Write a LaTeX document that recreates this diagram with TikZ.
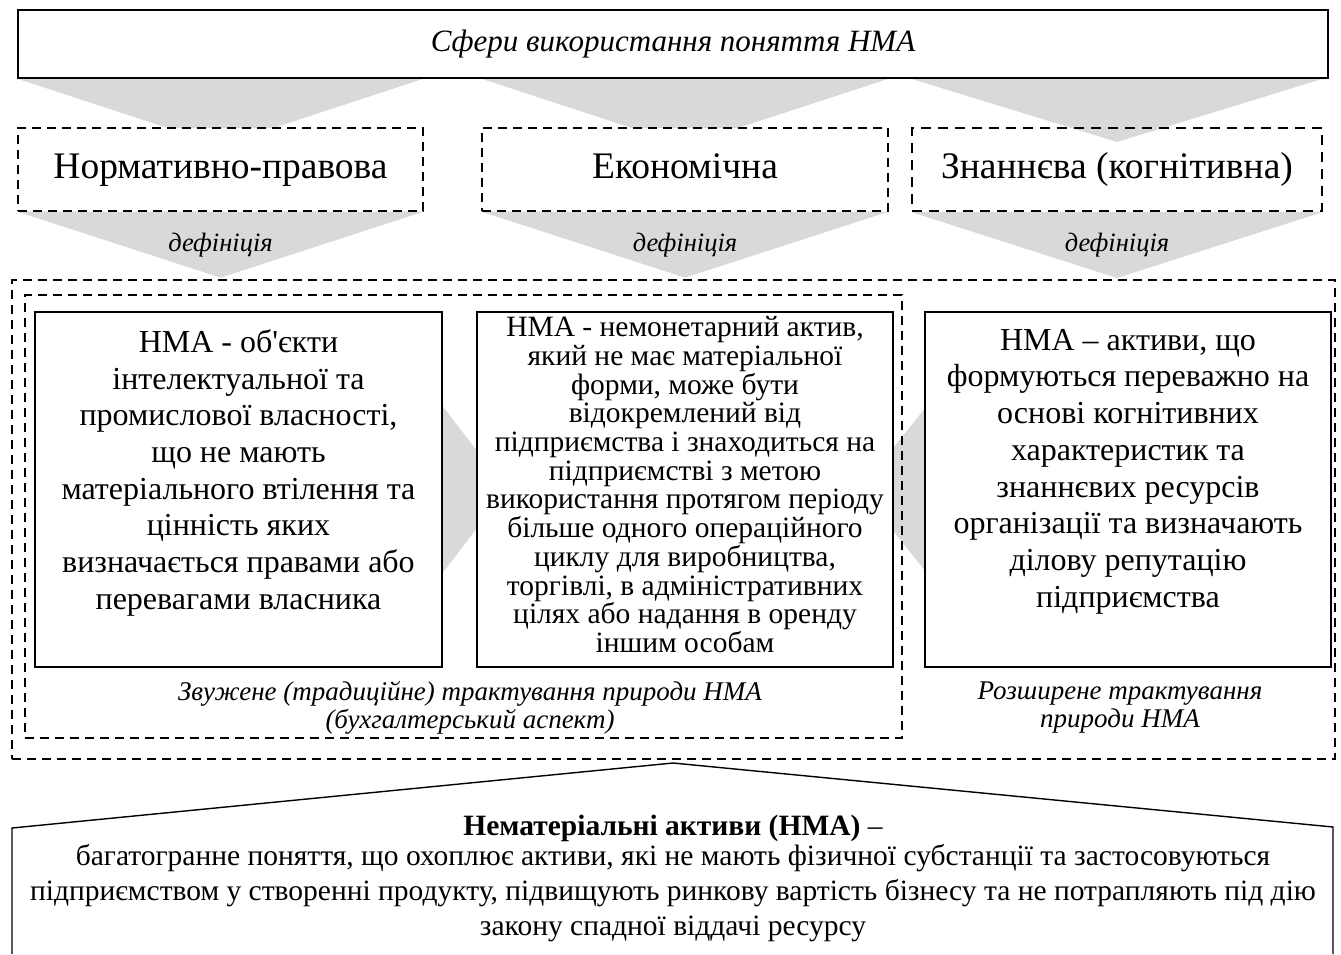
\documentclass[tikz,border=0pt]{standalone}
\usepackage{fontspec}
\setmainfont{Liberation Serif}
\newfontfamily\plainquote{Liberation Serif}[Ligatures=TeXOff]
\usetikzlibrary{positioning,calc,backgrounds}

\tikzset{
  solidbox/.style={draw, line width=1.4pt, fill=white, inner sep=0pt},
  dashbox/.style={draw, line width=1.3pt, dash pattern=on 9pt off 6pt, inner sep=0pt},
  greyfill/.style={fill=black!15},
  levelfont/.style={font=\fontsize{37.5}{40}\selectfont, text height=26pt, text depth=8pt},
  deflabel/.style={font=\fontsize{26.5}{28}\selectfont\itshape, inner sep=0pt},
  bigtext/.style={align=center, inner sep=0pt, font=\fontsize{32}{36.7}\selectfont},
  smalltext/.style={align=center, inner sep=0pt, font=\fontsize{29.5}{28.7}\selectfont},
  notetext/.style={align=center, inner sep=0pt, font=\fontsize{27}{28}\selectfont\itshape},
  bottomtext/.style={align=center, inner sep=0pt, font=\fontsize{29.5}{35}\selectfont}
}

\begin{document}
\begin{tikzpicture}[x=1pt,y=-1pt]
\useasboundingbox (0,0) rectangle (1341,954);

% spheres
\node[solidbox, minimum width=1310, minimum height=68,
  font=\fontsize{31}{36}\selectfont\itshape] (sfery) at (673,44) {Сфери використання поняття НМА};

\node[dashbox, fill=white, minimum width=405, minimum height=83, levelfont] (norm) at (220.5,169.5) {Нормативно-правова};
\node[dashbox, fill=white, minimum width=406, minimum height=83, levelfont] (econ) at (685,169.5) {Економічна};
\node[dashbox, line width=2pt, dash pattern=on 10pt off 7pt, minimum width=410, minimum height=83, levelfont] (know) at (1117,169.5) {Знаннєва (когнітивна)};

\foreach \n in {norm,econ,know}{
\node[deflabel] (def-\n) at ($(\n.south)+(0,33)$) {дефініція};
}

% frames
\node[dashbox, minimum width=1323, minimum height=479] (outer) at (673.5,519.5) {};
\node[dashbox, minimum width=877, minimum height=443] (inner) at (463.5,516.5) {};

% definitions
\node[solidbox, minimum width=407, minimum height=355] (obj) at (238.5,489.5) {};
\node[solidbox, minimum width=416, minimum height=355] (asset) at (685,489.5) {};
\node[solidbox, line width=2.2pt, minimum width=406, minimum height=355] (cogn) at (1128,489.5) {};

\node[bigtext, below=18pt of obj.north] (objtxt) {НМА - об{\plainquote'}єкти\\інтелектуальної та\\промислової власності,\\що не мають\\матеріального втілення та\\цінність яких\\визначається правами або\\перевагами власника};
\node[smalltext, below=5pt of asset.north] (assettxt) {НМА - немонетарний актив,\\який не має матеріальної\\форми, може бути\\відокремлений від\\підприємства і знаходиться на\\підприємстві з метою\\використання протягом періоду\\більше одного операційного\\циклу для виробництва,\\торгівлі, в адміністративних\\цілях або надання в оренду\\іншим особам};
\node[bigtext, below=18pt of cogn.north] (cogntxt) {НМА – активи, що\\формуються переважно на\\основі когнітивних\\характеристик та\\знаннєвих ресурсів\\організації та визначають\\ділову репутацію\\підприємства};

\node[notetext] (narrow) at (470,708) {Звужене (традиційне) трактування природи НМА\\(бухгалтерський аспект)};
\node[notetext] (broad) at (1120,708) {Розширене трактування\\природи НМА};

% concept
\draw[line width=1.4pt] (12,954) -- (12,828) -- (673,763) -- (1333,827) -- (1333,954);
\node[bottomtext, font=\fontsize{29.5}{35}\selectfont\bfseries] (nmatitle) at (673,828) {Нематеріальні активи (НМА) {\normalfont –}};
\node[bottomtext] (nmadef) at (673,893) {багатогранне поняття, що охоплює активи, які не мають фізичної субстанції та застосовуються\\підприємством у створенні продукту, підвищують ринкову вартість бізнесу та не потрапляють під дію\\закону спадної віддачі ресурсу};

% grey arrows
\begin{scope}[on background layer]
\foreach \n/\d in {norm/18,econ/18,know/15}{
\fill[greyfill] (\n.west |- sfery.south) -- (\n.east |- sfery.south) -- ($(\n.north)+(0,\d)$) -- cycle;
\fill[greyfill] (\n.south west) -- (\n.south east) -- ($(\n.south)+(0,66)$) -- cycle;
}
\fill[greyfill] ($(obj.east)+(-42,-138)$) -- ($(obj.east)+(-42,138)$) -- ($(obj.east)+(64,0)$) -- cycle;
\fill[greyfill] ($(cogn.west)+(65,-161)$) -- ($(cogn.west)+(65,161)$) -- ($(cogn.west)+(-64,0)$) -- cycle;
\end{scope}

\end{tikzpicture}
\end{document}
